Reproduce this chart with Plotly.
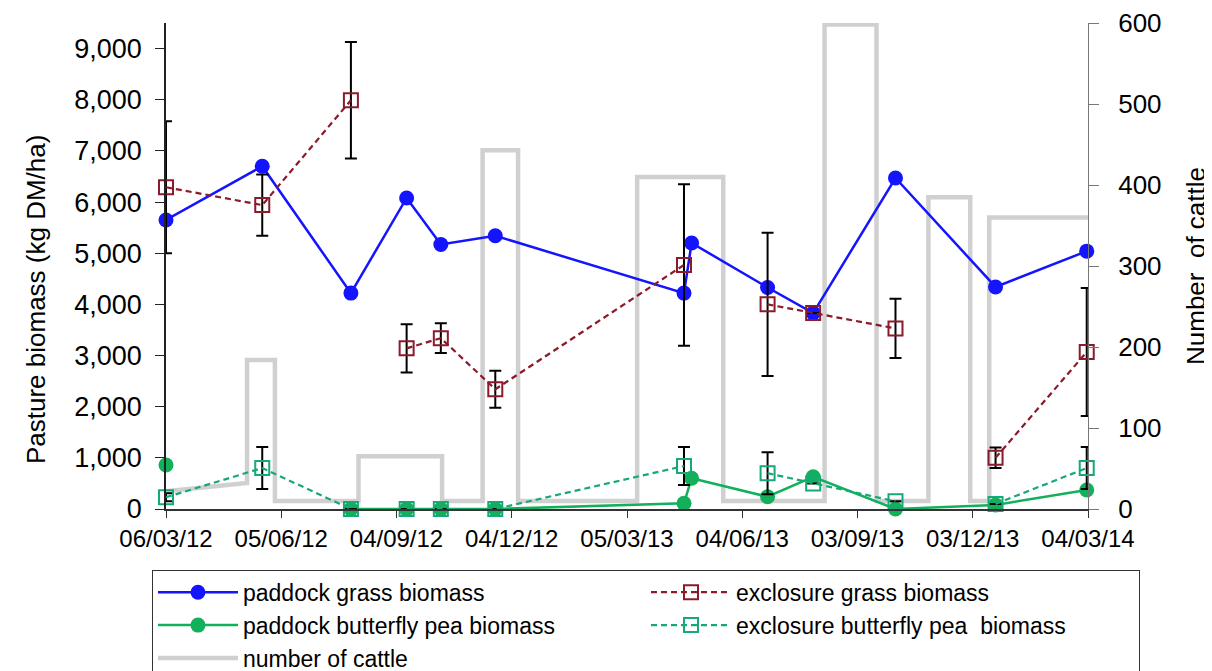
import plotly.graph_objects as go

# ---------------- data ----------------
sample_dates = ["2012-03-06", "2012-05-21", "2012-07-30", "2012-09-12", "2012-10-09",
                "2012-11-21", "2013-04-19", "2013-04-25", "2013-06-24", "2013-07-30",
                "2013-10-03", "2013-12-21", "2014-03-03"]
paddock_grass = [5650, 6700, 4220, 6080, 5170, 5340, 4220, 5200, 4330, 3830, 6470, 4340, 5040]
paddock_pea = [860, None, 0, 0, 0, 0, 110, 600, 240, 630, 0, 80, 370]
exclosure_grass = [6290, 5940, 7990, 3140, 3340, 2340, 4770, None, 4000, 3830, 3530, 1000, 3070]
exclosure_grass_err = [1290, 600, 1140, 470, 290, 360, 1580, None, 1400, 0, 580, 200, 1250]
exclosure_pea = [230, 800, 0, 0, 0, 0, 840, None, 700, 500, 150, 100, 800]
exclosure_pea_err = [80, 410, 0, 0, 0, 0, 370, None, 410, 0, 0, 0, 410]
exclosure_breaks_after = [2, 10]   # no exclosure sampling link between these visits

cattle_dates = ["2012-03-06", "2012-05-09", "2012-05-09", "2012-05-31", "2012-05-31",
                "2012-08-05", "2012-08-05", "2012-10-10", "2012-10-10", "2012-11-11",
                "2012-11-11", "2012-12-09", "2012-12-09", "2013-03-13", "2013-03-13",
                "2013-05-20", "2013-05-20", "2013-08-08", "2013-08-08", "2013-09-18",
                "2013-09-18", "2013-10-29", "2013-10-29", "2013-12-01", "2013-12-01",
                "2013-12-16", "2013-12-16", "2014-03-04"]
cattle_count = [22, 32, 184, 184, 10, 10, 65, 65, 10, 10, 443, 443, 10, 10, 410, 410,
                10, 10, 598, 598, 10, 10, 385, 385, 10, 10, 360, 360]

tick_dates = ["2012-03-06", "2012-06-05", "2012-09-04", "2012-12-04", "2013-03-05",
              "2013-06-04", "2013-09-03", "2013-12-03", "2014-03-04"]
tick_labels = ["06/03/12", "05/06/12", "04/09/12", "04/12/12", "05/03/13",
               "04/06/13", "03/09/13", "03/12/13", "04/03/14"]


def with_breaks(values, breaks):
    out = []
    for i, v in enumerate(values):
        out.append(v)
        if i in breaks:
            out.append(None)
    return out


def break_dates(dates, breaks):
    out = []
    for i, d in enumerate(dates):
        out.append(d)
        if i in breaks:
            out.append(d)
    return out


FONT = "Liberation Sans, Arial, sans-serif"
BLUE = "#1414ff"
RED = "#8b1a2b"
GREEN = "#12b05a"
TEAL = "#16a878"

fig = go.Figure()

fig.add_trace(go.Scatter(
    x=sample_dates, y=paddock_grass, name="paddock grass biomass", yaxis="y2",
    mode="lines+markers", line=dict(color=BLUE, width=2.5),
    marker=dict(symbol="circle", size=15, color=BLUE), cliponaxis=False))

ex_x = break_dates(sample_dates, exclosure_breaks_after)
fig.add_trace(go.Scatter(
    x=ex_x, y=with_breaks(exclosure_grass, exclosure_breaks_after),
    name="exclosure grass biomass", yaxis="y2",
    mode="lines+markers", line=dict(color=RED, width=2.2, dash="6px,4px"),
    marker=dict(symbol="square-open", size=14, color=RED, line=dict(width=2)),
    error_y=dict(type="data", array=with_breaks(exclosure_grass_err, exclosure_breaks_after),
                 color="black", thickness=2, width=6),
    cliponaxis=False))

fig.add_trace(go.Scatter(
    x=sample_dates, y=paddock_pea, name="paddock butterfly pea biomass", yaxis="y2",
    mode="lines+markers", line=dict(color=GREEN, width=2.5),
    marker=dict(symbol="circle", size=15, color=GREEN), cliponaxis=False))

fig.add_trace(go.Scatter(
    x=ex_x, y=with_breaks(exclosure_pea, exclosure_breaks_after),
    name="exclosure butterfly pea\u00a0 biomass", yaxis="y2",
    mode="lines+markers", line=dict(color=TEAL, width=2.2, dash="6px,4px"),
    marker=dict(symbol="square-open", size=14, color=TEAL, line=dict(width=2)),
    error_y=dict(type="data", array=with_breaks(exclosure_pea_err, exclosure_breaks_after),
                 color="black", thickness=2, width=6),
    cliponaxis=False))

fig.add_trace(go.Scatter(
    x=cattle_dates, y=cattle_count, name="number of cattle", yaxis="y",
    mode="lines", line=dict(color="#d0d0d0", width=4.5)))

fig.update_layout(
    width=1204, height=663,
    margin=dict(l=158, r=124, t=15, b=162, autoexpand=False),
    paper_bgcolor="white", plot_bgcolor="white",
    font=dict(family=FONT, color="black", size=23),
    showlegend=True,
    legend=dict(orientation="h", x=-0.0152, y=-0.125, xanchor="left", yanchor="top",
                bordercolor="#333333", borderwidth=1, bgcolor="white",
                font=dict(family=FONT, size=23, color="black"),
                itemwidth=80,
                entrywidth=398, entrywidthmode="pixels", tracegroupgap=0,
                traceorder="normal"),
    xaxis=dict(type="date", range=["2012-03-06", "2014-03-04"],
               tickmode="array", tickvals=tick_dates, ticktext=tick_labels,
               ticks="outside", ticklen=7, tickwidth=1.2, tickcolor="#333333",
               showline=True, linecolor="#333333", linewidth=1.5,
               showgrid=False, zeroline=False,
               tickfont=dict(family=FONT, size=24, color="black")),
    yaxis=dict(side="right", range=[0, 600], tick0=0, dtick=100,
               ticks="outside", ticklen=10, tickcolor="#777777",
               showline=True, linecolor="#777777", linewidth=1,
               showgrid=False, zeroline=False,
               tickfont=dict(family=FONT, size=26, color="black"),
               ticklabelstandoff=14,
               title=dict(text="Number\u00a0 of cattle", standoff=26,
                          font=dict(family=FONT, size=26, color="black"))),
    yaxis2=dict(overlaying="y", side="left", range=[0, 9500], tick0=0, dtick=1000,
                tickformat=",d",
                ticks="outside", ticklen=9, tickwidth=1.2, tickcolor="#222222",
                showline=True, linecolor="#222222", linewidth=1.5,
                showgrid=False, zeroline=False,
                tickfont=dict(family=FONT, size=27, color="black"),
                ticklabelstandoff=8),
    annotations=[dict(text="Pasture biomass (kg DM/ha)", textangle=-90,
                      xref="paper", yref="paper", x=-0.141, y=0.432,
                      xanchor="center", yanchor="middle", showarrow=False,
                      font=dict(family=FONT, size=26, color="black"))],
    shapes=[dict(type="rect", xref="paper", yref="paper",
                 x0=-0.1735, x1=1.15, y0=-0.36, y1=1.033,
                 line=dict(color="#d0d0d0", width=1), fillcolor="rgba(0,0,0,0)",
                 layer="below")],
)

fig.write_html("out.html")
